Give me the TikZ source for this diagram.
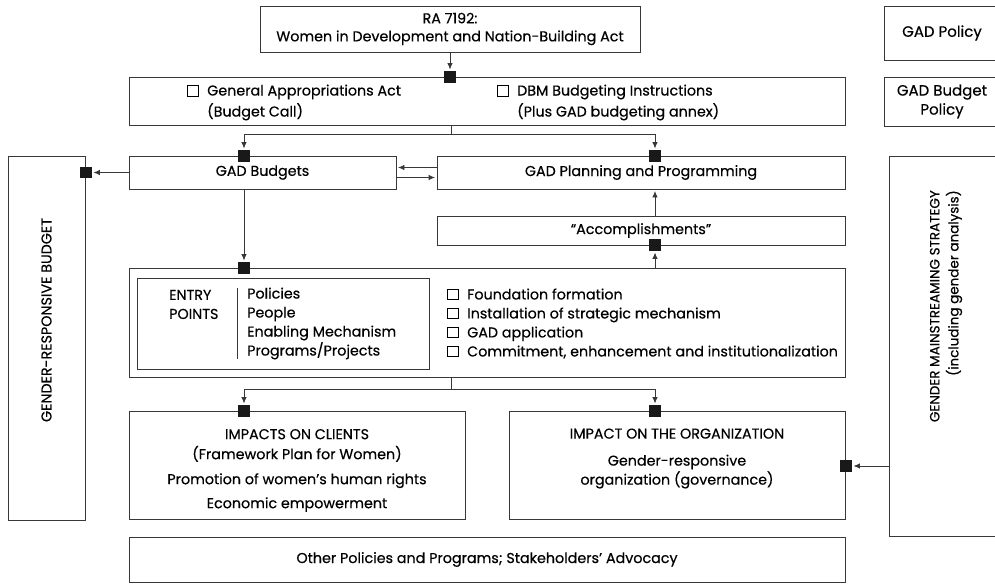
\documentclass[tikz,border=0pt]{standalone}
\usepackage{fontspec}
\setmainfont{Poppins}[FakeBold=0.4]
\usetikzlibrary{arrows.meta}
\newcommand{\cb}{\makebox[20pt][l]{\setlength{\fboxsep}{0pt}\setlength{\fboxrule}{0.7pt}\fbox{\rule{0pt}{10pt}\hspace{10pt}}}}
\newcommand{\cbgap}{\hspace*{20pt}}

\begin{document}
\begin{tikzpicture}[x=1pt, y=-1pt,
    box/.style={draw=black!78, line width=0.9pt, rectangle, inner sep=0pt, align=center, font=\fontsize{14.3}{19}\selectfont},
    lbl/.style={inner sep=0pt, font=\fontsize{14.3}{19}\selectfont},
    sq/.style={fill=black!90, rectangle, minimum size=11.5pt, inner sep=0pt},
    line/.style={draw=black!78, line width=0.9pt},
    arr/.style={line, -{Latex[length=6.5pt,width=5.5pt]}, shorten >=1.5pt}]
    \useasboundingbox[fill=white] (0,0) rectangle (995,584);
    \clip (0,0) rectangle (995,584);

    % Top row
    \node[box, minimum width=380pt, minimum height=46pt, font=\fontsize{14.3}{18}\selectfont] (ra) at (450,29) {RA 7192:\\Women in Development and Nation-Building Act};
    \node[box, minimum width=116pt, minimum height=54pt, font=\fontsize{15}{19}\selectfont] (gadpol) at (942,33) {GAD Policy};
    \node[box, minimum width=116pt, minimum height=49pt, font=\fontsize{15}{19}\selectfont] (gadbudpol) at (942,101.5) {GAD Budget\\Policy};

    % Budget call
    \node[box, minimum width=716pt, minimum height=48pt] (call) at (487,101) {};
    \node[lbl, align=left, anchor=west, font=\fontsize{14.3}{21}\selectfont] (gaa) at (187,102.5) {\cb General Appropriations Act\\\cbgap(Budget Call)};
    \node[lbl, align=left, anchor=west, font=\fontsize{14.3}{21}\selectfont] (dbm) at (497,102.5) {\cb DBM Budgeting Instructions\\\cbgap(Plus GAD budgeting annex)};

    % Budgets and planning
    \node[box, minimum width=267pt, minimum height=33pt] (gadbud) at (262.5,172.5) {GAD Budgets};
    \node[box, minimum width=408pt, minimum height=33pt] (gadplan) at (641,172.5) {GAD Planning and Programming};
    \node[box, minimum width=408pt, minimum height=29pt] (acc) at (641,230.5) {“Accomplishments”};

    % Entry points
    \node[box, minimum width=716pt, minimum height=109pt] (mid) at (487,322.5) {};
    \node[box, minimum width=292pt, minimum height=91pt] (entry) at (283,323.5) {};
    \node[lbl, align=left, anchor=west] (entrylbl) at (169,304.5) {ENTRY\\POINTS};
    \draw[line] (237,288) -- (237,359);
    \node[lbl, align=left, anchor=west] (points) at (247,323.5) {Policies\\People\\Enabling Mechanism\\Programs/Projects};
    \node[lbl, align=left, anchor=west] (steps) at (447,323.5) {\cb Foundation formation\\\cb Installation of strategic mechanism\\\cb GAD application\\\cb Commitment, enhancement and institutionalization};

    % Impacts
    \node[box, minimum width=336pt, minimum height=108pt] (clients) at (297,465) {};
    \node[lbl, align=center, font=\fontsize{14.3}{20}\selectfont] (clitxt) at (297,470.5) {IMPACTS ON CLIENTS\\(Framework Plan for Women)\\[5pt]Promotion of women’s human rights\\[4pt]Economic empowerment};
    \node[box, minimum width=336pt, minimum height=108pt] (org) at (677,465) {};
    \node[lbl, align=center] (orgtxt) at (677,458.5) {IMPACT ON THE ORGANIZATION\\[8pt]Gender-responsive\\organization (governance)};
    \node[box, minimum width=716pt, minimum height=45pt] (other) at (487,559.5) {Other Policies and Programs; Stakeholders’ Advocacy};

    % Side strategies
    \node[box, minimum width=77pt, minimum height=364pt] (grb) at (46.5,338) {};
    \node[lbl, rotate=90] (grbtxt) at (46.5,320) {GENDER-RESPONSIVE BUDGET};
    \node[box, minimum width=120pt, minimum height=380pt] (gms) at (949,346) {};
    \node[lbl, rotate=90, anchor=east, align=right, font=\fontsize{13.5}{19}\selectfont] (gmstxt) at (946,190) {GENDER MAINSTREAMING STRATEGY\\(including gender analysis)};

    % Squares
    \node[sq] (sq-ra) at (450,77) {};
    \node[sq] (sq-bud) at (244,156) {};
    \node[sq] (sq-plan) at (655,156) {};
    \node[sq] (sq-grb) at (86,172.5) {};
    \node[sq] (sq-acc) at (655,245) {};
    \node[sq] (sq-mid) at (244,268) {};
    \node[sq] (sq-cli) at (244,411) {};
    \node[sq] (sq-org) at (655,411) {};
    \node[sq] (sq-side) at (846,466) {};
    \coordinate (split-top) at (451,134);
    \coordinate (split-bot) at (451,389);

    % Connectors
    \draw[arr] (ra.south) -- (sq-ra);
    \draw[line] (call.south -| split-top) -- (split-top);
    \draw[arr] (split-top) -| (sq-bud);
    \draw[arr] (split-top) -| (sq-plan);
    \draw[arr] (gadbud.west) -- (sq-grb);
    \draw[arr] ([yshift=5pt]gadplan.west) -- ([yshift=5pt]gadbud.east);
    \draw[arr] ([yshift=-5pt]gadbud.east) -- ([yshift=-5pt]gadplan.west);
    \draw[arr] (acc.north -| sq-acc) -- (gadplan.south -| sq-acc);
    \draw[arr] (mid.north -| sq-acc) -- (sq-acc);
    \draw[arr] (gadbud.south -| sq-mid) -- (sq-mid);
    \draw[line] (mid.south -| split-bot) -- (split-bot);
    \draw[arr] (split-bot) -| (sq-cli);
    \draw[arr] (split-bot) -| (sq-org);
    \draw[arr] (gms.west |- sq-side) -- (sq-side);
\end{tikzpicture}
\end{document}
